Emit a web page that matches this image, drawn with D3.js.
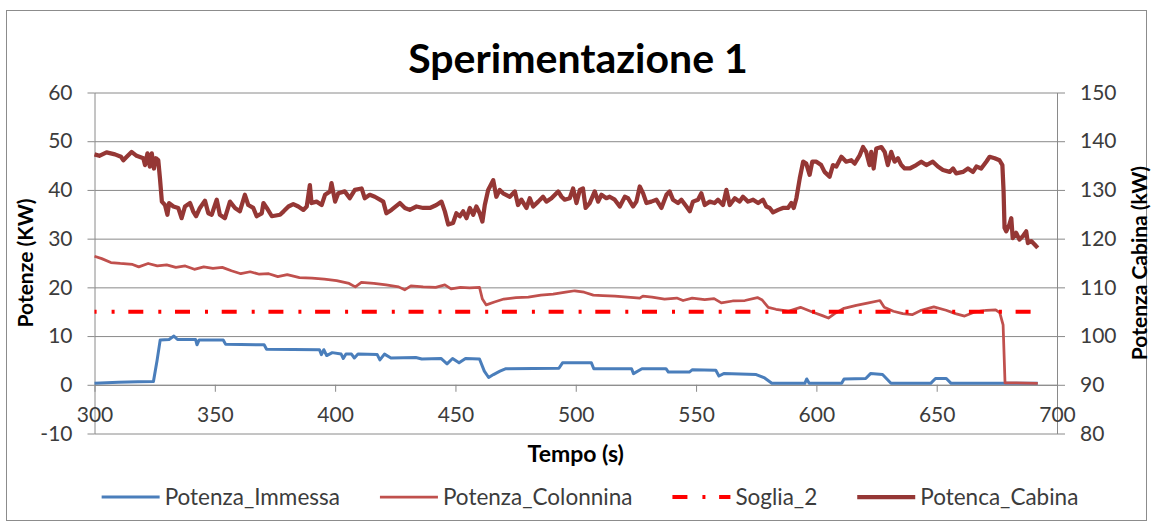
<!DOCTYPE html>
<html>
<head>
<meta charset="utf-8">
<script src="https://cdn.jsdelivr.net/npm/d3@7"></script>
<style>
  body { margin: 0; background: #ffffff; }
  svg { display: block; font-family: Lato, "Open Sans", sans-serif; }
</style>
</head>
<body>
<svg id="chart" width="1153" height="527"></svg>
<script>
// ---- data ----
const chartTitle = "Sperimentazione 1";
const timeTicks = [300, 350, 400, 450, 500, 550, 600, 650, 700];
const leftTicks = [-10, 0, 10, 20, 30, 40, 50, 60];
const rightTicks = [80, 90, 100, 110, 120, 130, 140, 150];
const seriesNames = ["Potenza_Immessa", "Potenza_Colonnina", "Soglia_2", "Potenca_Cabina"];

// [tempo (s), potenza (kW)] — left axis
const immessa = [
  [300,0.3],[310,0.5],[318,0.6],[324.5,0.7],[326,5.0],[327.3,9.2],[331,9.3],[333,10.0],[334.5,9.3],
  [342,9.3],[342.6,8.2],[343.5,9.2],[353.5,9.2],[354.5,8.3],[370.5,8.2],[371.5,7.3],[393.5,7.2],
  [394.3,6.2],[395.3,7.2],[396.5,6.0],[398.8,6.6],[402.5,6.3],[403.4,5.4],[404.5,6.3],[406.8,6.3],
  [408,5.5],[409.5,6.3],[417.5,6.2],[418.6,5.1],[420.5,6.3],[423.2,5.5],[433.5,5.6],[436,5.3],
  [444,5.4],[446.5,4.3],[448.8,5.4],[451.5,4.5],[454.2,5.4],[460,5.3],[462,2.8],[463.8,1.5],
  [465.8,2.1],[468.5,2.8],[471,3.3],[493,3.4],[494.5,4.5],[506.5,4.5],[507.5,3.3],[523.2,3.3],
  [524,2.3],[527.5,3.3],[537.5,3.3],[538.5,2.6],[547.2,2.6],[548.5,3.1],[558.2,3.0],[559.5,1.8],
  [561.5,2.3],[575,2.1],[578.5,1.4],[581.5,0.3],[595.2,0.3],[596,1.2],[597,0.3],[610.5,0.3],
  [611.5,1.2],[620.5,1.3],[622.5,2.3],[627.5,2.1],[631,0.3],[647.5,0.3],[649.5,1.3],[654,1.3],
  [656,0.3],[678,0.3],[692,0.3]
];

const colonnina = [
  [300,26.4],[303,25.9],[306.8,25.1],[310.7,24.9],[315.8,24.7],[318.4,24.2],[322.3,24.9],[326.1,24.4],
  [330,24.6],[333.8,24.1],[337.7,24.4],[341.5,23.7],[345.4,24.2],[349.2,23.9],[353.1,24.1],[356.9,23.4],
  [360.8,22.8],[364.7,23.2],[368.5,22.7],[372.4,22.8],[376.2,22.2],[380.1,22.6],[385.2,22.0],[390.4,21.9],
  [395.5,21.7],[400.6,21.4],[405.8,20.8],[408.4,20.1],[410.9,21.0],[416.1,20.8],[421.2,20.5],[426.4,20.1],
  [428.9,19.5],[431.5,20.3],[436.6,20.1],[441.8,20.0],[445.6,20.5],[448.2,19.7],[452.1,20.0],[455.9,19.9],
  [460,20.0],[461.2,17.6],[462.8,16.4],[466.2,17.0],[470.1,17.6],[475.2,17.9],[480.3,18.0],[485.5,18.4],
  [490.6,18.6],[495.8,19.0],[499.6,19.3],[503.5,19.0],[507.3,18.4],[511.2,18.3],[516.3,18.2],[521.5,18.0],
  [526.6,17.8],[527.9,18.2],[531.7,18.0],[536.9,17.6],[542,17.8],[544.6,17.3],[548.4,17.8],[553.6,17.5],
  [557.5,17.7],[560.5,16.8],[565.2,17.2],[570.3,17.3],[575.5,17.9],[577.5,17.4],[580,15.9],[583.2,15.5],
  [588.3,15.1],[593.4,15.9],[598.6,14.9],[602.5,14.2],[605,13.7],[607.6,14.6],[611.5,15.7],[616.6,16.3],
  [621.7,16.8],[626.4,17.3],[628.2,15.9],[632,15.1],[635.9,14.6],[639.8,14.4],[643.6,15.3],[648.8,16.0],
  [653.9,15.3],[657.8,14.6],[661.6,14.1],[665.5,14.9],[670.6,15.3],[674.5,15.4],[676.2,14.8],[677.6,12.3],
  [678.4,0.4],[683,0.4],[692,0.3]
];

const soglia = [[300,15],[692,15]];

// [tempo (s), potenza cabina (kW)] — right axis
const cabina = [
  [300,137.3],[302,137.0],[305,137.7],[308.5,137.3],[311,136.8],[312,136.1],[313.4,136.8],[315.4,137.8],
  [317.5,137.0],[320.3,136.5],[321,135.1],[322,137.5],[323,134.8],[323.8,137.5],[324.7,134.4],[325.5,136.5],
  [326.5,136.1],[327.2,132.4],[328,127.6],[329.3,126.9],[330.3,124.9],[331,127.3],[332.8,126.6],[334.8,126.3],
  [336.2,124.2],[337.6,126.6],[339.7,127.3],[341,125.6],[342.2,124.6],[343.8,126.3],[345.9,127.8],[347.3,125.2],
  [348.7,124.9],[350.8,128.0],[352.1,124.9],[354.2,124.2],[356.3,127.6],[358.4,126.3],[360.4,125.6],[362.5,129.0],
  [363.9,126.9],[366,126.3],[367.4,124.6],[369.5,125.2],[370.2,127.3],[371.6,126.3],[373.7,124.6],[377.1,124.9],
  [378.6,125.6],[380.6,126.6],[382.6,127.1],[384.7,126.6],[386.8,125.9],[388.2,126.6],[389.5,131.0],[390.2,127.3],
  [392.3,127.6],[394.4,126.9],[395.8,129.0],[397.9,129.7],[398.5,131.4],[400,127.6],[401.3,129.3],[404,129.7],
  [406.1,128.3],[408.2,130.0],[411,130.3],[412.3,128.3],[414.4,129.0],[416.5,128.6],[418.6,128.0],[420,127.6],
  [421.3,125.2],[423.4,125.9],[426.9,127.3],[429,126.3],[431,125.9],[433.8,126.6],[436.6,126.3],[439.4,126.3],
  [442.1,126.9],[444.2,127.6],[445.6,125.6],[447,122.9],[449,123.2],[450.4,125.2],[451.8,124.6],[453.2,125.6],
  [454.6,124.2],[456,126.3],[457.4,124.9],[458.7,126.6],[460.1,125.2],[461.2,123.5],[462.2,126.9],[463.6,130.0],
  [465.7,132.0],[467,128.6],[468.4,130.0],[469.8,129.3],[472.6,128.6],[474.7,129.7],[476,126.9],[477.4,128.0],
  [479.5,126.3],[480.9,128.3],[482.3,126.6],[484.4,127.6],[486.4,128.6],[487.8,127.6],[489.9,128.3],[492.7,129.7],
  [494.1,128.6],[495.4,128.0],[497.5,128.3],[498.9,130.3],[500.3,127.3],[501.7,130.0],[503,130.3],[504.1,126.3],
  [505.8,127.3],[507.9,129.7],[509.3,127.6],[510.7,129.0],[512.7,128.3],[514.1,128.6],[516.2,128.0],[518.3,126.6],
  [520.4,128.6],[521.7,128.3],[523.8,126.6],[525.2,127.6],[526.6,130.7],[528,129.3],[529.4,127.3],[531.4,127.6],
  [533.5,128.0],[535.6,126.3],[537.7,129.0],[539,129.7],[540.4,128.0],[542.5,127.3],[543.9,128.0],[546,126.6],
  [547.4,125.6],[548.7,127.6],[550.8,128.0],[552.2,129.3],[553.6,126.9],[555.7,127.6],[557.7,127.3],[559.1,128.0],
  [561.2,126.9],[562.6,130.0],[564,126.9],[566.1,128.3],[568.1,127.6],[569.5,128.6],[571.6,127.6],[573.7,128.0],
  [575.8,127.3],[577.8,128.0],[579.2,126.6],[580.6,126.3],[582,125.4],[584.1,125.9],[586.1,126.3],[588.2,126.3],
  [589.6,127.3],[590.6,126.3],[591.7,128.3],[593.1,132.4],[594.5,135.8],[595.8,135.4],[597.2,133.1],[598.3,135.8],
  [600,135.8],[602,135.1],[603.4,133.7],[605.5,132.7],[606.9,135.1],[608.3,134.8],[610.4,136.8],[612.4,135.8],
  [614.5,136.1],[615.9,135.4],[618,137.1],[619.4,138.8],[620.7,137.8],[622.1,135.1],[622.8,137.8],[623.8,134.4],
  [624.9,138.5],[627,138.8],[628.4,137.8],[629.7,135.1],[631.1,137.8],[632.5,135.8],[633.9,136.5],[635.3,135.1],
  [636.7,134.4],[638.8,134.4],[641.5,135.1],[643.6,135.8],[645.7,135.1],[648.4,135.8],[650.5,134.8],[652.6,134.1],
  [655.4,133.7],[656.8,134.4],[658.1,133.4],[660.9,133.7],[663,134.4],[665.1,133.7],[666.5,134.8],[668.5,134.4],
  [670.6,135.8],[672,136.8],[674.1,136.5],[676.1,136.1],[677.3,135.1],[677.8,129.7],[678.2,122.2],[678.9,121.5],
  [680.2,122.9],[681,124.2],[681.6,120.1],[683,121.2],[684.4,119.8],[685.8,120.5],[687.2,121.5],[687.9,119.1],
  [689.3,119.5],[690.7,118.8],[692,118.1]
];

// ---- layout ----
const svg = d3.select("#chart");
const X0 = 94.5, X1 = 1057, Y0 = 92.5, Y1 = 433.5;
const gridColor = "#8a8a8a";
const labelColor = "#3c3c3c";

const x = d3.scaleLinear().domain([300, 700]).range([X0, X1]);
const yL = d3.scaleLinear().domain([-10, 60]).range([Y1, Y0]);
const yR = d3.scaleLinear().domain([80, 150]).range([Y1, Y0]);
const plainNumber = d => String(d);

// chart frame
svg.append("rect")
  .attr("x", 6.5).attr("y", 10.5).attr("width", 1140).attr("height", 510)
  .attr("fill", "#ffffff").attr("stroke", "#8c8c8c").attr("stroke-width", 1);

// horizontal gridlines
const grid = svg.append("g")
  .attr("transform", `translate(${X0},0)`)
  .call(d3.axisLeft(yL).tickValues(leftTicks).tickSize(-(X1 - X0)).tickFormat(""));
grid.select(".domain").remove();
grid.selectAll("line").attr("stroke", gridColor).attr("stroke-width", 1);

function styleAxis(g) {
  g.select(".domain").attr("stroke", gridColor).attr("stroke-width", 1);
  g.selectAll(".tick line").attr("stroke", gridColor).attr("stroke-width", 1);
  g.selectAll(".tick text")
    .attr("fill", labelColor)
    .style("font-family", "Lato, 'Open Sans', sans-serif")
    .style("font-size", "21px");
}

// left axis
svg.append("g")
  .attr("transform", `translate(${X0},0)`)
  .call(d3.axisLeft(yL).tickValues(leftTicks).tickFormat(plainNumber)
    .tickSizeInner(7).tickSizeOuter(0).tickPadding(15))
  .call(styleAxis);

// right axis
svg.append("g")
  .attr("transform", `translate(${X1},0)`)
  .call(d3.axisRight(yR).tickValues(rightTicks).tickFormat(plainNumber)
    .tickSizeInner(8).tickSizeOuter(0).tickPadding(15))
  .call(styleAxis);

// time axis crossing at zero
svg.append("g")
  .attr("transform", `translate(0,${yL(0)})`)
  .call(d3.axisBottom(x).tickValues(timeTicks).tickFormat(plainNumber)
    .tickSizeInner(7).tickSizeOuter(0).tickPadding(15))
  .call(styleAxis);

// ---- series ----
const lineL = d3.line().x(d => x(d[0])).y(d => yL(d[1]));
const lineR = d3.line().x(d => x(d[0])).y(d => yR(d[1]));

const styles = [
  { color: "#4a7ebb", width: 3,    dash: null, offset: 0 },
  { color: "#c0504d", width: 2.75, dash: null, offset: 0 },
  { color: "#ff0000", width: 4,    dash: "15,15,3,13.7", offset: 12.9 },
  { color: "#953735", width: 4.25, dash: null, offset: 0 }
];

const plotted = [
  { data: immessa,   gen: lineL },
  { data: colonnina, gen: lineL },
  { data: soglia,    gen: lineL },
  { data: cabina,    gen: lineR }
];

plotted.forEach((s, i) => {
  svg.append("path")
    .datum(s.data)
    .attr("d", s.gen)
    .attr("fill", "none")
    .attr("stroke", styles[i].color)
    .attr("stroke-width", styles[i].width)
    .attr("stroke-linejoin", "round")
    .attr("stroke-dasharray", styles[i].dash)
    .attr("stroke-dashoffset", styles[i].offset);
});

// ---- titles ----
svg.append("text")
  .attr("x", 578).attr("y", 73)
  .attr("text-anchor", "middle")
  .style("font-size", "41px").style("font-weight", "bold")
  .attr("fill", "#000")
  .text(chartTitle);

svg.append("text")
  .attr("x", (X0 + X1) / 2).attr("y", 454).attr("dy", "0.35em")
  .attr("text-anchor", "middle")
  .style("font-size", "23px").style("font-weight", "bold")
  .attr("fill", "#000")
  .text("Tempo (s)");

svg.append("text")
  .attr("transform", `translate(26,${(Y0 + Y1) / 2}) rotate(-90)`)
  .attr("dy", "0.35em")
  .attr("text-anchor", "middle")
  .style("font-size", "21px").style("font-weight", "bold")
  .attr("fill", "#000")
  .text("Potenze (KW)");

svg.append("text")
  .attr("transform", `translate(1140,${(Y0 + Y1) / 2}) rotate(-90)`)
  .attr("dy", "0.35em")
  .attr("text-anchor", "middle")
  .style("font-size", "21px").style("font-weight", "bold")
  .attr("fill", "#000")
  .text("Potenza Cabina (kW)");

// ---- legend ----
const legendY = 497;
const sampleLen = 58, sampleGap = 5, itemGap = 40;
const legend = svg.append("g");
const items = seriesNames.map((name, i) => {
  const g = legend.append("g");
  g.append("line")
    .attr("x1", 0).attr("x2", sampleLen)
    .attr("y1", legendY).attr("y2", legendY)
    .attr("stroke", styles[i].color)
    .attr("stroke-width", styles[i].width)
    .attr("stroke-dasharray", styles[i].dash);
  const t = g.append("text")
    .attr("x", sampleLen + sampleGap).attr("y", legendY).attr("dy", "0.35em")
    .style("font-size", "22.5px")
    .attr("fill", labelColor)
    .text(name);
  return { g, w: sampleLen + sampleGap + t.node().getComputedTextLength() };
});
const total = d3.sum(items, d => d.w) + itemGap * (items.length - 1);
let cx = 590 - total / 2;
items.forEach(it => {
  it.g.attr("transform", `translate(${cx},0)`);
  cx += it.w + itemGap;
});
</script>
</body>
</html>
